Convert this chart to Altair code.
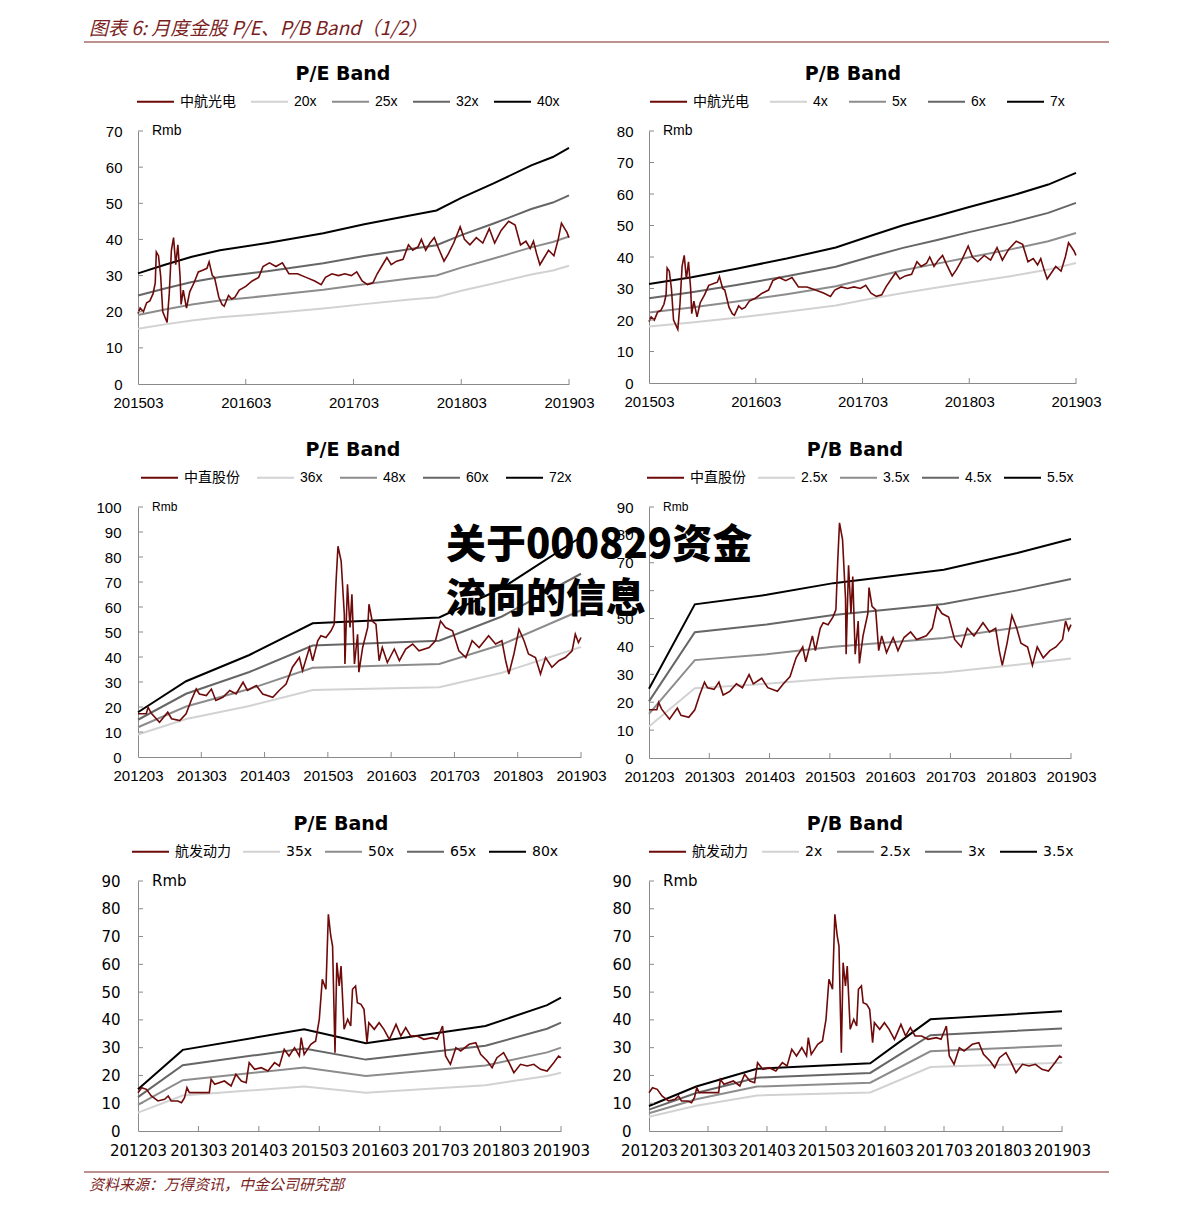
import json
import altair as alt
import pandas as pd

# ---------------- text ----------------
HEADER = "图表 6:  月度金股 P/E、P/B Band（1/2）"
FOOTER = "资料来源：万得资讯，中金公司研究部"
WATERMARK_1 = "关于000829资金"
WATERMARK_2 = "流向的信息"

# ---------------- 中航光电 (x = years since 201503) ----------------
AV_NAME = "中航光电"
AV_T = [0.00, 0.02, 0.05, 0.08, 0.11, 0.14, 0.16, 0.17, 0.19, 0.21, 0.23, 0.27, 0.29, 0.31, 0.33,
        0.35, 0.37, 0.39, 0.40, 0.42, 0.45, 0.48, 0.52, 0.56, 0.60, 0.64, 0.66, 0.69, 0.71, 0.75,
        0.78, 0.80, 0.84, 0.87, 0.90, 0.94, 1.00, 1.06, 1.12, 1.16, 1.22, 1.28, 1.34, 1.40, 1.48,
        1.56, 1.64, 1.70, 1.74, 1.80, 1.86, 1.92, 1.98, 2.03, 2.08, 2.13, 2.18, 2.22, 2.27, 2.31,
        2.35, 2.40, 2.46, 2.51, 2.55, 2.60, 2.63, 2.67, 2.71, 2.75, 2.79, 2.84, 2.88, 2.93, 2.99,
        3.03, 3.08, 3.14, 3.20, 3.26, 3.31, 3.37, 3.44, 3.50, 3.55, 3.60, 3.64, 3.67, 3.70, 3.73,
        3.77, 3.81, 3.86, 3.90, 3.93, 3.96, 3.98, 4.00]
AV_P = [19.5, 21.0, 20.0, 22.5, 23.0, 25.0, 28.0, 36.5, 35.5, 30.0, 20.0, 17.0, 25.0, 37.0, 40.5,
        33.0, 38.5, 30.0, 22.0, 26.0, 21.0, 25.5, 28.0, 31.0, 31.5, 32.0, 33.8, 30.0, 29.5, 24.0,
        22.0, 21.5, 24.5, 23.5, 24.0, 26.0, 27.0, 28.5, 29.5, 32.5, 33.5, 32.5, 33.5, 30.5, 30.5,
        29.5, 28.5, 27.5, 29.5, 30.5, 30.0, 30.5, 30.0, 31.0, 28.5, 27.5, 28.0, 30.5, 33.0, 35.0,
        33.0, 34.0, 34.5, 38.5, 37.0, 38.0, 40.0, 37.0, 39.0, 40.5, 37.5, 34.0, 36.0, 39.0, 43.5,
        40.0, 38.5, 40.5, 39.0, 43.0, 39.0, 42.5, 45.0, 44.0, 38.5, 39.5, 37.5, 39.5, 36.0, 33.0,
        35.0, 37.0, 35.5, 40.0, 44.5, 43.0, 42.0, 40.5]
X_LABELS_15 = ["201503", "201603", "201703", "201803", "201903"]

PE1_NAMES = ["20x", "25x", "32x", "40x"]
PE1_T = [0, 0.25, 0.5, 0.76, 1.2, 1.72, 2.1, 2.5, 2.77, 3.0, 3.3, 3.65, 3.85, 4.0]
PE1_20 = [15.3, 16.5, 17.6, 18.5, 19.5, 20.9, 22.1, 23.3, 24.0, 25.8, 27.8, 30.3, 31.4, 32.7]
PE1_25 = [19.1, 20.6, 22.0, 23.1, 24.4, 26.1, 27.6, 29.1, 30.0, 32.2, 34.7, 37.8, 39.3, 40.8]
PE1_32 = [24.5, 26.4, 28.2, 29.6, 31.2, 33.4, 35.4, 37.2, 38.4, 41.2, 44.4, 48.4, 50.2, 52.2]
PE1_40 = [30.6, 33.0, 35.2, 37.0, 39.0, 41.7, 44.2, 46.5, 48.0, 51.5, 55.5, 60.5, 62.8, 65.3]

PB1_NAMES = ["4x", "5x", "6x", "7x"]
PB1_T = [0, 0.4, 0.82, 1.29, 1.75, 2.1, 2.38, 2.7, 3.0, 3.4, 3.74, 4.0]
PB1_4 = [17.9, 19.2, 20.7, 22.6, 24.6, 26.9, 28.6, 30.3, 31.9, 34.0, 36.0, 38.1]
PB1_5 = [22.4, 24.0, 25.9, 28.2, 30.7, 33.6, 35.8, 37.9, 39.9, 42.5, 45.0, 47.6]
PB1_6 = [26.9, 28.8, 31.1, 33.9, 36.9, 40.3, 42.9, 45.4, 47.9, 51.0, 54.0, 57.2]
PB1_7 = [31.4, 33.6, 36.3, 39.5, 43.0, 47.0, 50.1, 53.0, 55.9, 59.5, 63.0, 66.7]

# ---------------- 中直股份 (x = years since 201203) ----------------
ZZ_NAME = "中直股份"
ZZ_T = [0, 0.13, 0.16, 0.21, 0.34, 0.47, 0.53, 0.66, 0.76, 0.84, 0.92, 0.97, 1.08, 1.16, 1.23,
        1.34, 1.45, 1.55, 1.66, 1.73, 1.87, 1.97, 2.13, 2.23, 2.34, 2.44, 2.55, 2.60, 2.71, 2.76,
        2.84, 2.89, 2.97, 3.05, 3.10, 3.13, 3.16, 3.21, 3.26, 3.27, 3.31, 3.35, 3.38, 3.42, 3.47,
        3.49, 3.55, 3.63, 3.65, 3.70, 3.76, 3.81, 3.86, 3.94, 4.05, 4.13, 4.23, 4.34, 4.44, 4.60,
        4.70, 4.78, 4.86, 4.97, 5.07, 5.18, 5.28, 5.39, 5.54, 5.65, 5.75, 5.81, 5.86, 5.94, 6.02,
        6.10, 6.17, 6.28, 6.36, 6.44, 6.54, 6.65, 6.75, 6.86, 6.91, 6.96, 7.0]
ZZ_P = [17.3, 17.3, 19.9, 17.5, 13.9, 17.9, 15.3, 14.6, 17.3, 22.6, 27.2, 25.2, 24.6, 27.2, 22.6,
        23.9, 26.6, 25.2, 29.9, 26.6, 28.6, 25.2, 23.9, 26.6, 29.2, 35.9, 39.8, 34.5, 43.8, 38.5,
        46.5, 48.5, 47.8, 50.5, 53.1, 70.4, 84.3, 78.4, 57.1, 37.2, 69.1, 51.8, 65.1, 37.2, 49.1,
        33.9, 43.8, 51.8, 61.1, 54.4, 53.1, 38.5, 43.8, 37.8, 43.2, 38.5, 43.2, 45.2, 42.5, 43.8,
        46.5, 54.4, 51.8, 50.5, 42.5, 39.8, 46.5, 43.8, 48.5, 45.2, 46.5, 38.5, 33.2, 41.2, 51.1,
        46.5, 41.2, 39.8, 33.2, 39.8, 35.9, 38.5, 39.8, 42.5, 49.1, 45.8, 47.8]
X_LABELS_12 = ["201203", "201303", "201403", "201503", "201603", "201703", "201803", "201903"]

PE2_NAMES = ["36x", "48x", "60x", "72x"]
PE2_T = [0, 0.76, 1.76, 2.76, 4.76, 5.75, 7.0]
PE2_36 = [9.0, 15.2, 20.4, 26.8, 27.9, 33.7, 44.0]
PE2_48 = [11.9, 20.2, 27.2, 35.7, 37.2, 45.0, 58.7]
PE2_60 = [14.9, 25.3, 34.0, 44.6, 46.5, 56.2, 73.3]
PE2_72 = [17.9, 30.3, 40.8, 53.5, 55.8, 67.5, 88.0]

PB2_NAMES = ["2.5x", "3.5x", "4.5x", "5.5x"]
PB2_T = [0, 0.76, 1.95, 3.06, 4.89, 6.11, 7.0]
PB2_25 = [11.3, 25.0, 26.6, 28.5, 30.7, 33.4, 35.7]
PB2_35 = [15.8, 35.1, 37.2, 39.9, 43.0, 46.8, 50.0]
PB2_45 = [20.3, 45.1, 47.9, 51.3, 55.2, 60.1, 64.2]
PB2_55 = [24.8, 55.1, 58.5, 62.7, 67.5, 73.5, 78.5]

# ---------------- 航发动力 (x = years since 201203) ----------------
HF_NAME = "航发动力"
HF_T = [0, 0.06, 0.14, 0.22, 0.33, 0.44, 0.50, 0.55, 0.66, 0.72, 0.77, 0.81, 0.85, 1.18, 1.21,
        1.27, 1.43, 1.54, 1.62, 1.71, 1.79, 1.84, 1.93, 2.04, 2.15, 2.26, 2.34, 2.42, 2.50, 2.59,
        2.67, 2.70, 2.75, 2.86, 2.94, 3.00, 3.05, 3.11, 3.15, 3.19, 3.22, 3.26, 3.29, 3.33, 3.36,
        3.41, 3.47, 3.52, 3.55, 3.60, 3.63, 3.69, 3.74, 3.79, 3.82, 3.91, 3.99, 4.07, 4.16, 4.27,
        4.35, 4.43, 4.51, 4.62, 4.73, 4.87, 4.95, 5.04, 5.09, 5.17, 5.26, 5.34, 5.48, 5.59, 5.67,
        5.78, 5.86, 5.94, 6.05, 6.14, 6.22, 6.33, 6.44, 6.55, 6.66, 6.77, 6.88, 6.96, 7.0]
HF_P = [13.8, 15.6, 15.0, 12.6, 10.8, 11.4, 12.6, 10.8, 10.8, 10.2, 12.0, 15.6, 13.8, 13.8, 18.6,
        16.8, 18.0, 16.2, 20.4, 18.0, 17.4, 24.6, 22.2, 22.8, 21.6, 24.6, 23.4, 29.4, 27.0, 30.0,
        27.0, 33.6, 27.6, 31.2, 32.4, 40.2, 54.6, 51.0, 78.0, 70.2, 66.6, 28.2, 60.6, 52.2, 59.4,
        36.6, 40.2, 37.8, 51.0, 52.2, 46.2, 45.6, 43.8, 31.8, 39.0, 36.6, 39.0, 36.6, 33.0, 38.4,
        34.2, 37.2, 34.2, 34.2, 33.0, 33.6, 33.0, 37.8, 27.0, 24.0, 30.0, 28.8, 31.2, 31.8, 27.6,
        25.2, 22.8, 26.4, 28.2, 24.6, 21.0, 24.0, 23.4, 24.0, 22.2, 21.6, 24.6, 27.0, 26.4]

PE3_NAMES = ["35x", "50x", "65x", "80x"]
PE3_T = [0, 0.74, 2.75, 3.77, 5.75, 6.77, 7.0]
PE3_35 = [6.6, 12.8, 16.0, 13.8, 16.5, 19.8, 21.0]
PE3_50 = [9.4, 18.3, 22.9, 19.8, 23.6, 28.3, 30.0]
PE3_65 = [12.2, 23.7, 29.7, 25.7, 30.7, 36.8, 39.0]
PE3_80 = [15.0, 29.2, 36.6, 31.6, 37.8, 45.3, 48.0]

PB3_NAMES = ["2x", "2.5x", "3x", "3.5x"]
PB3_T = [0, 0.8, 1.83, 3.75, 4.77, 7.0]
PB3_20 = [5.1, 9.1, 12.8, 13.9, 23.0, 24.6]
PB3_25 = [6.4, 11.4, 16.0, 17.4, 28.7, 30.8]
PB3_30 = [7.7, 13.7, 19.2, 20.9, 34.5, 36.9]
PB3_35 = [9.0, 16.0, 22.4, 24.4, 40.2, 43.1]

# ---------------- style ----------------
MAROON = "#6E0A0A"
BAND_COLORS = ["#D2D2D2", "#8C8C8C", "#666666", "#000000"]
AXIS_GRAY = "#8A8A8A"
RED_TEXT = "#7A1E1E"
RED_LINE = "#A86C6C"
ARIAL = "Liberation Sans"
VERDANA = "DejaVu Sans"
LEG_ARIAL = "Liberation Sans, Noto Sans CJK SC"
LEG_VERDANA = "DejaVu Sans, Noto Sans CJK SC"
CJK = "Noto Sans CJK SC"
ONE = pd.DataFrame({"k": [0]})


def panel(title, stock, pt, pv, bt, bands, bnames, xlabels, ymax, ystep, w, h,
          font, ypad, xpad, legend_x, legend_font, col_pad, rmb_size, title_x, extra=()):
    xmax = len(xlabels) - 1
    rows = []
    for name, vals in zip(bnames, bands):
        rows += [{"t": t, "v": v, "s": name} for t, v in zip(bt, vals)]
    bdf = pd.DataFrame(rows)
    pdf = pd.DataFrame({"t": pt, "v": pv, "s": stock})
    domain = [stock] + bnames
    yticks = list(range(0, ymax + 1, ystep))
    xsc = alt.Scale(domain=[0, xmax], nice=False, zero=False)
    ysc = alt.Scale(domain=[0, ymax], nice=False, zero=True)
    color = alt.Color(
        "s:N",
        scale=alt.Scale(domain=domain, range=[MAROON] + BAND_COLORS),
        legend=alt.Legend(
            title=None, orient="none", legendX=legend_x, legendY=-49,
            direction="horizontal", columns=5, symbolType="stroke",
            symbolSize=1369, symbolStrokeWidth=2, labelFont=legend_font,
            labelFontSize=14, labelColor="#000000", labelOffset=5,
            columnPadding=col_pad, padding=0, labelLimit=300,
        ),
    )
    x = alt.X("t:Q", scale=xsc, axis=alt.Axis(
        values=list(range(0, xmax + 1)), labelExpr=json.dumps(xlabels) + "[datum.value]",
        ticks=False, tickSize=0, grid=False, domainColor=AXIS_GRAY, labelFont=font,
        labelFontSize=15, labelColor="#000000", labelPadding=xpad, labelOverlap=False,
        labelFlush=False, title=None))
    y = alt.Y("v:Q", scale=ysc, axis=alt.Axis(
        values=yticks, ticks=False, tickSize=0, grid=False, domainColor=AXIS_GRAY,
        labelFont=font, labelFontSize=15, labelColor="#000000", labelPadding=ypad,
        title=None))
    band_layer = alt.Chart(bdf).mark_line(strokeWidth=2).encode(x=x, y=y, color=color)
    price_layer = alt.Chart(pdf).mark_line(strokeWidth=1.6).encode(x=x, y=y, color=color)
    ytick_layer = alt.Chart(pd.DataFrame({"v": yticks[1:]})).mark_rule(
        color=AXIS_GRAY).encode(y=y, x=alt.value(0), x2=alt.value(5))
    xtick_layer = alt.Chart(pd.DataFrame({"t": list(range(1, xmax + 1))})).mark_rule(
        color=AXIS_GRAY).encode(x=x, y=alt.value(h), y2=alt.value(h - 5))
    rmb = alt.Chart(ONE).mark_text(text="Rmb", align="left", baseline="middle",
                                   font=font, fontSize=rmb_size,
                                   color="#000000").encode(x=alt.value(14), y=alt.value(0))
    ttl = alt.Chart(ONE).mark_text(text=title, align="center", baseline="middle",
                                   font=VERDANA, fontSize=19, fontWeight="bold",
                                   color="#000000").encode(x=alt.value(title_x), y=alt.value(-57))
    layers = [band_layer, price_layer, ytick_layer, xtick_layer, rmb, ttl] + list(extra)
    return alt.layer(*layers).properties(width=w, height=h)


# header (drawn within the first panel's frame, outside its plot area)
header_text = alt.Chart(ONE).mark_text(
    text=HEADER, align="left", baseline="middle", font=CJK, fontSize=19,
    fontStyle="italic", color=RED_TEXT).encode(x=alt.value(-49), y=alt.value(-102))
header_rule = alt.Chart(ONE).mark_rule(color=RED_LINE, strokeWidth=1.5).encode(
    x=alt.value(-54), x2=alt.value(971), y=alt.value(-89))

footer_rule = alt.Chart(ONE).mark_rule(color=RED_LINE, strokeWidth=1.5).encode(
    x=alt.value(-54), x2=alt.value(971), y=alt.value(291))
footer_text = alt.Chart(ONE).mark_text(
    text=FOOTER, align="left", baseline="middle", font=CJK, fontSize=15,
    fontStyle="italic", color=RED_TEXT).encode(x=alt.value(-49), y=alt.value(304))

wm1 = alt.Chart(ONE).mark_text(
    text=WATERMARK_1, align="left", baseline="middle", font=CJK, fontSize=40,
    fontWeight=900, color="#000000").encode(x=alt.value(-203), y=alt.value(39))
wm2 = alt.Chart(ONE).mark_text(
    text=WATERMARK_2, align="left", baseline="middle", font=CJK, fontSize=40,
    fontWeight=900, color="#000000").encode(x=alt.value(-203), y=alt.value(93))

p1 = panel("P/E Band", AV_NAME, AV_T, AV_P, PE1_T, [PE1_20, PE1_25, PE1_32, PE1_40], PE1_NAMES,
           X_LABELS_15, 70, 10, 431, 253, ARIAL, 16, 11, -2, LEG_ARIAL, 11, 14, 205,
           extra=[header_text, header_rule])
p2 = panel("P/B Band", AV_NAME, AV_T, AV_P, PB1_T, [PB1_4, PB1_5, PB1_6, PB1_7], PB1_NAMES,
           X_LABELS_15, 80, 10, 427, 252, ARIAL, 16, 11, 0, LEG_ARIAL, 17, 14, 204)
p3 = panel("P/E Band", ZZ_NAME, ZZ_T, ZZ_P, PE2_T, [PE2_36, PE2_48, PE2_60, PE2_72], PE2_NAMES,
           X_LABELS_12, 100, 10, 443, 250, ARIAL, 17, 11, 2, LEG_ARIAL, 13, 12, 215)
p4 = panel("P/B Band", ZZ_NAME, ZZ_T, ZZ_P, PB2_T, [PB2_25, PB2_35, PB2_45, PB2_55], PB2_NAMES,
           X_LABELS_12, 90, 10, 422, 251, ARIAL, 16, 11, -3, LEG_ARIAL, 8, 12, 206,
           extra=[wm1, wm2])
p5 = panel("P/E Band", HF_NAME, HF_T, HF_P, PE3_T, [PE3_35, PE3_50, PE3_65, PE3_80], PE3_NAMES,
           X_LABELS_12, 90, 10, 423, 250, VERDANA, 18, 12, -7, LEG_VERDANA, 8, 15, 203,
           extra=[footer_rule, footer_text])
p6 = panel("P/B Band", HF_NAME, HF_T, HF_P, PB3_T, [PB3_20, PB3_25, PB3_30, PB3_35], PB3_NAMES,
           X_LABELS_12, 90, 10, 413, 250, VERDANA, 18, 12, -1, LEG_VERDANA, 10, 15, 206)

chart = alt.concat(
    p1, p2, p3, p4, p5, p6, columns=2,
    spacing={"row": 123, "column": 68}, bounds="flush",
).resolve_scale(
    x="independent", y="independent", color="independent"
).resolve_legend(
    color="independent"
).properties(
    padding={"left": 75, "top": 12, "right": 5, "bottom": 5},
    background="white",
).configure_view(stroke=None)

chart.save("out.html", embed_options={"renderer": "svg", "actions": False})
